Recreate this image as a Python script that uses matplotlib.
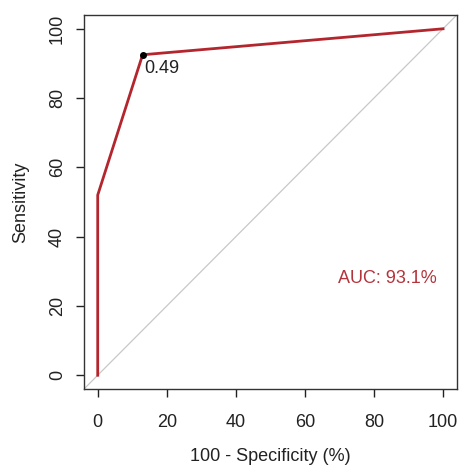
import matplotlib
matplotlib.use("Agg")
import matplotlib.pyplot as plt

fpr = [0, 0, 13, 100]
tpr = [0, 52, 92.5, 100]
best_fpr = 13
best_tpr = 92.5
best_label = "0.49"
auc_text = "AUC: 93.1%"
ticks = [0, 20, 40, 60, 80, 100]

plt.rcParams['font.family'] = ['Liberation Sans', 'DejaVu Sans']
fig = plt.figure(figsize=(4.61, 4.66), dpi=100)
ax = fig.add_axes([0.182, 0.165, 0.809, 0.803])
ax.plot([-4, 104], [-4, 104], color='#c8c8c8', lw=0.9, zorder=1)
ax.plot(fpr, tpr, color='#b3262e', lw=2, zorder=2)
ax.plot([best_fpr], [best_tpr], 'o', color='black', ms=4, zorder=3)
ax.text(best_fpr + 0.5, best_tpr - 1.5, best_label, ha='left', va='top', fontsize=13, color='#222222')
ax.text(84, 28, auc_text, ha='center', va='center', fontsize=13, color='#b3343c')
ax.set_xlim(-4, 104)
ax.set_ylim(-4, 104)
ax.set_xticks(ticks)
ax.set_yticks(ticks)
ax.tick_params(direction='out', length=6, width=1, labelsize=13, colors='#222222')
ax.tick_params(axis='x', pad=12)
ax.tick_params(axis='y', pad=7)
for lab in ax.get_yticklabels():
    lab.set_rotation(90)
    lab.set_va('center')
for s in ax.spines.values():
    s.set_color('#333333')
    s.set_linewidth(1)
ax.set_xlabel('100 - Specificity (%)', fontsize=13, color='#222222', labelpad=12)
ax.set_ylabel('Sensitivity', fontsize=13, color='#222222', labelpad=14)
fig.savefig('out.png', dpi=100)
